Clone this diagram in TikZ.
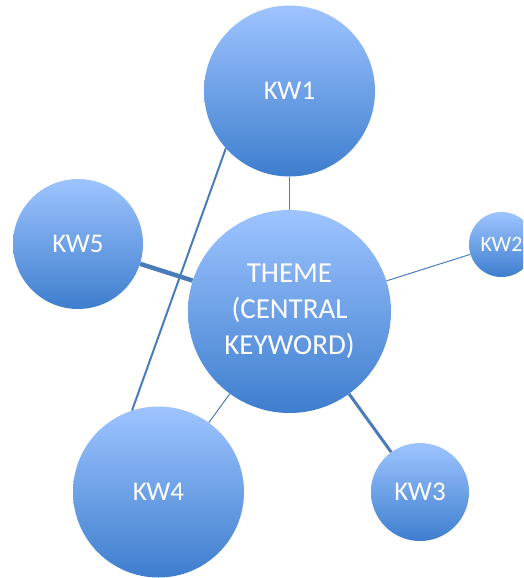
\documentclass[tikz,border=0pt]{standalone}
\usepackage{fontspec}
\setmainfont{Carlito}
\definecolor{balltop}{RGB}{158,196,255}
\definecolor{ballbot}{RGB}{62,126,206}
\definecolor{linkcol}{RGB}{74,124,186}
\tikzset{
  ball/.style={circle, inner sep=0pt, top color=balltop, bottom color=ballbot, text=white, align=center},
  link/.style={draw=linkcol, line cap=butt},
}
\begin{document}
\begin{tikzpicture}[x=1pt,y=-1pt]
\useasboundingbox (0,0) rectangle (523,578);
\clip (0,0) rectangle (523,578);
% nodes
\node[ball, minimum size=171pt, font=\fontsize{27}{32}\selectfont] (kw1) at (289.5,91) {KW1};
\node[ball, minimum size=130pt, font=\fontsize{27}{32}\selectfont] (kw5) at (78,244) {KW5};
\node[ball, minimum size=203pt, font=\fontsize{29}{36}\selectfont] (theme) at (289.5,311.5) {THEME\\(CENTRAL\\KEYWORD)};
\node[ball, minimum size=65pt, font=\fontsize{22}{26}\selectfont] (kw2) at (501.5,244.5) {KW2};
\node[ball, minimum size=98pt, font=\fontsize{27}{32}\selectfont] (kw3) at (420,492) {KW3};
\node[ball, minimum size=171pt, font=\fontsize{27}{32}\selectfont] (kw4) at (158.5,492) {KW4};
% connectors
\draw[link, line width=1pt] (kw1) -- (theme);
\draw[link, line width=4.5pt] (kw5) -- (theme);
\draw[link, line width=1pt] (kw2) -- (theme);
\draw[link, line width=3pt] (kw3) -- (theme);
\draw[link, line width=1pt] (kw4) -- (theme);
\draw[link, line width=2pt] (kw1.222.5) -- (kw4.108.1);
\end{tikzpicture}
\end{document}
